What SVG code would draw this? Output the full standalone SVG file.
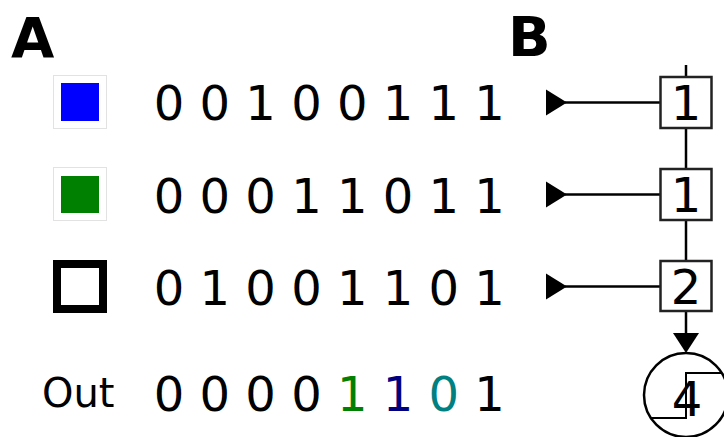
<svg xmlns="http://www.w3.org/2000/svg" width="724" height="437" viewBox="0 0 724 437">
  <style>
    .panel { font-family: "DejaVu Sans", "Liberation Sans", sans-serif; font-weight: bold; font-size: 56px; fill: #000; }
    .bits { font-family: "DejaVu Sans", "Liberation Sans", sans-serif; font-size: 48px; fill: #000; text-anchor: middle; }
    .label { font-family: "DejaVu Sans", "Liberation Sans", sans-serif; font-size: 40px; fill: #000; }
    .swatch { fill: #fff; stroke: #e2e2e2; stroke-width: 1; }
    .wire { stroke: #000; stroke-width: 2.5; fill: none; }
    .cell { fill: #fff; stroke: #222; stroke-width: 2.5; }
    .num { font-family: "DejaVu Sans", "Liberation Sans", sans-serif; font-size: 48px; fill: #000; text-anchor: middle; }
  </style>
  <defs>
    <clipPath id="neuronClip">
      <circle cx="686" cy="395" r="42"/>
    </clipPath>
  </defs>
  <rect width="724" height="437" fill="#fff"/>

  <!-- panel letters -->
  <text class="panel" x="11" y="57">A</text>
  <text class="panel" x="508" y="56">B</text>

  <!-- input symbols -->
  <g id="sym-blue">
    <rect class="swatch" x="53.5" y="75.5" width="53" height="53"/>
    <rect x="61" y="83" width="38" height="38" fill="#0000ff"/>
  </g>
  <g id="sym-green">
    <rect class="swatch" x="53.5" y="167.5" width="53" height="53"/>
    <rect x="61" y="176" width="38" height="37" fill="#008000"/>
  </g>
  <g id="sym-black">
    <rect x="57" y="264" width="46" height="45" fill="#fff" stroke="#000" stroke-width="8"/>
  </g>
  <text id="label-out" class="label" x="42" y="407">Out</text>

  <!-- bit rows -->
  <g id="row-blue" class="bits">
    <text x="169" y="120">0</text><text x="214.8" y="120">0</text><text x="260.6" y="120">1</text><text x="306.4" y="120">0</text>
    <text x="352.2" y="120">0</text><text x="398" y="120">1</text><text x="443.8" y="120">1</text><text x="489.6" y="120">1</text>
  </g>
  <g id="row-green" class="bits">
    <text x="169" y="212.5">0</text><text x="214.8" y="212.5">0</text><text x="260.6" y="212.5">0</text><text x="306.4" y="212.5">1</text>
    <text x="352.2" y="212.5">1</text><text x="398" y="212.5">0</text><text x="443.8" y="212.5">1</text><text x="489.6" y="212.5">1</text>
  </g>
  <g id="row-black" class="bits">
    <text x="169" y="304.5">0</text><text x="214.8" y="304.5">1</text><text x="260.6" y="304.5">0</text><text x="306.4" y="304.5">0</text>
    <text x="352.2" y="304.5">1</text><text x="398" y="304.5">1</text><text x="443.8" y="304.5">0</text><text x="489.6" y="304.5">1</text>
  </g>
  <g id="row-out" class="bits">
    <text x="169" y="411">0</text><text x="214.8" y="411">0</text><text x="260.6" y="411">0</text><text x="306.4" y="411">0</text>
    <text x="352.2" y="411" fill="#008000">1</text><text x="398" y="411" fill="#000080">1</text>
    <text x="443.8" y="411" fill="#008080">0</text><text x="489.6" y="411">1</text>
  </g>

  <!-- connectors -->
  <g id="connectors">
    <line class="wire" x1="686" y1="65" x2="686" y2="77"/>
    <line class="wire" x1="686" y1="128" x2="686" y2="169"/>
    <line class="wire" x1="686" y1="220" x2="686" y2="261"/>
    <line class="wire" x1="686" y1="311" x2="686" y2="335"/>
    <polygon points="673,333 699,333 686,353" fill="#000"/>
    <line class="wire" x1="565" y1="102.5" x2="660" y2="102.5"/>
    <polygon points="546,89.5 546,115.5 567,102.5" fill="#000"/>
    <line class="wire" x1="565" y1="194.5" x2="660" y2="194.5"/>
    <polygon points="546,181.5 546,207.5 567,194.5" fill="#000"/>
    <line class="wire" x1="565" y1="286.5" x2="660" y2="286.5"/>
    <polygon points="546,273.5 546,299.5 567,286.5" fill="#000"/>
  </g>

  <!-- weight cells -->
  <g id="cell-1">
    <rect class="cell" x="660.5" y="77" width="51" height="51"/>
    <text class="num" x="686" y="120">1</text>
  </g>
  <g id="cell-2">
    <rect class="cell" x="660.5" y="169" width="51" height="51"/>
    <text class="num" x="686" y="212">1</text>
  </g>
  <g id="cell-3">
    <rect class="cell" x="660.5" y="261" width="51" height="50"/>
    <text class="num" x="686" y="304">2</text>
  </g>

  <!-- threshold unit -->
  <g id="neuron">
    <circle cx="686" cy="395" r="42" fill="#fff" stroke="#000" stroke-width="2.5"/>
    <polyline points="640,418 686,418 686,373 730,373" fill="none" stroke="#000" stroke-width="2" clip-path="url(#neuronClip)"/>
    <text class="num" x="687" y="416" font-size="52">4</text>
  </g>
</svg>
